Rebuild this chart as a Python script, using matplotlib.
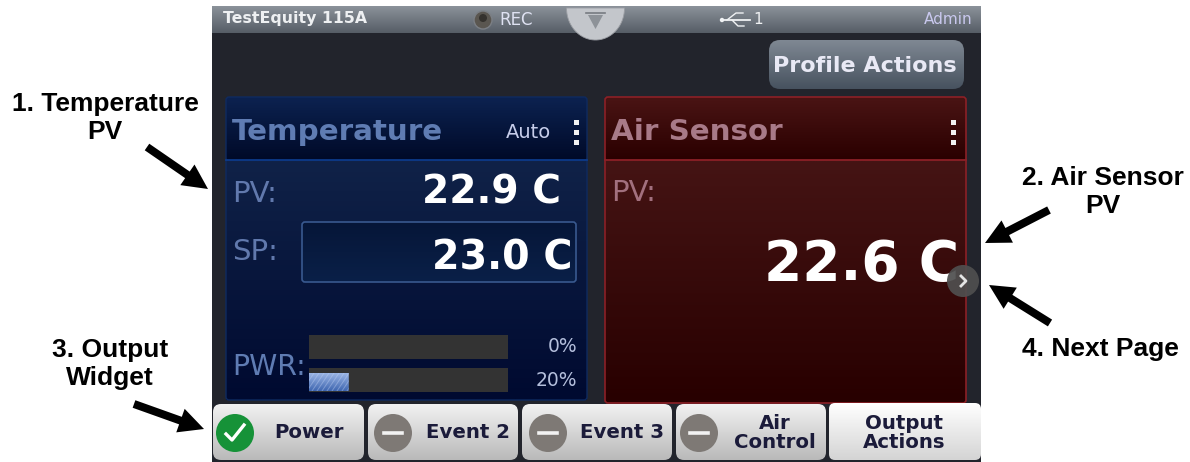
import matplotlib
matplotlib.use('Agg')
import matplotlib.pyplot as plt
from matplotlib.patches import FancyBboxPatch, FancyArrow, Circle, Polygon, Rectangle
import numpy as np

# values shown on the screen
title = 'TestEquity 115A'
rec_label = 'REC'
usb_label = '1'
user_label = 'Admin'
temp_name = 'Temperature'
temp_mode = 'Auto'
temp_pv = '22.9 C'
temp_sp = '23.0 C'
air_name = 'Air Sensor'
air_pv = '22.6 C'
pwr_values = [0, 20]
callouts = ['1. Temperature\nPV', '2. Air Sensor\nPV', '3. Output\nWidget', '4. Next Page']
tabs = ['Power', 'Event 2', 'Event 3', 'Air\nControl', 'Output\nActions']
tab_states = ['on', 'off', 'off', 'off', None]

callout_xy = [(105, 118), (1103, 192), (110, 364), (1100, 349)]
arrow_ends = [((147, 147), (208, 189)), ((1049, 210), (985, 243)),
              ((134, 404), (204, 429)), ((1050, 323), (989, 285))]
tab_x = [(213, 364), (368, 518), (522, 672), (676, 826), (829, 981)]
tab_text_x = [309, 468, 622, 775, 904]
tab_icon_x = [235, 393, 548, 699, None]

fig = plt.figure(figsize=(11.9, 4.62), dpi=100)
ax = fig.add_axes([0, 0, 1, 1])
ax.set_xlim(0, 1190)
ax.set_ylim(462, 0)
ax.axis('off')


def gradient(x0, y0, x1, y1, top, bottom, rad=0, z=1):
    # vertical gradient clipped to a rounded box
    c0 = np.array(matplotlib.colors.to_rgb(top))
    c1 = np.array(matplotlib.colors.to_rgb(bottom))
    t = np.linspace(0, 1, 64)[:, None, None]
    img = c0[None, None, :] * (1 - t) + c1[None, None, :] * t
    im = ax.imshow(img, extent=[x0, x1, y1, y0], aspect='auto', zorder=z,
                   interpolation='bilinear')
    box = FancyBboxPatch((x0 + rad, y0 + rad), x1 - x0 - 2 * rad, y1 - y0 - 2 * rad,
                         boxstyle='round,pad=%f,rounding_size=%f' % (rad, rad),
                         fc='none', ec='none', transform=ax.transData)
    ax.add_patch(box)
    im.set_clip_path(box)
    return im


def outline(x0, y0, x1, y1, color, rad=2, lw=1.2, z=3):
    ax.add_patch(FancyBboxPatch((x0 + rad, y0 + rad), x1 - x0 - 2 * rad, y1 - y0 - 2 * rad,
                                boxstyle='round,pad=%f,rounding_size=%f' % (rad, rad),
                                fc='none', ec=color, lw=lw, zorder=z))


def label(x, y, s, size, color, ha='left', weight='bold', z=6, **kw):
    ax.text(x, y, s, fontsize=size, color=color, ha=ha, va='center',
            fontweight=weight, family='DejaVu Sans', zorder=z, **kw)


# screen
ax.add_patch(Rectangle((212, 6), 769, 456, fc='#22242c', ec='none', zorder=0))
gradient(212, 6, 981, 33, '#8b929a', '#565d66', z=1)
label(223, 19, title, 11.3, '#eef0f2')
ax.add_patch(Circle((483, 20), 9, fc='#5a5650', ec='#7b7f85', lw=1, zorder=3))
ax.add_patch(Circle((483, 18), 4, fc='#35322e', ec='none', zorder=4))
label(499, 20, rec_label, 12, '#dfe2f2', weight='normal')
label(973, 20, user_label, 11, '#c9c8ee', ha='right', weight='normal')

# pull-down tab
theta = np.linspace(0, np.pi, 40)
tab_pts = np.c_[595.5 + 29 * np.cos(theta), 8 + 32 * np.sin(theta)]
ax.add_patch(Polygon(tab_pts, fc='#c3c6cb', ec='#9a9da3', lw=0.6, zorder=3))
ax.add_patch(Polygon([(588, 15), (603, 15), (595.5, 29)], fc='#8d9298', ec='none', zorder=4))
ax.plot([586, 605], [13, 13], color='#777b81', lw=1.2, zorder=4)

# usb symbol
ax.plot([722, 750], [20, 20], color='#f0f2f4', lw=1.3, zorder=4)
ax.plot([727, 736, 743], [20, 13, 13], color='#f0f2f4', lw=1, zorder=4)
ax.plot([732, 738, 744], [20, 26, 26], color='#f0f2f4', lw=1, zorder=4)
ax.add_patch(Circle((722, 20), 2.2, fc='#f0f2f4', ec='none', zorder=4))
label(753, 20, usb_label, 11, '#eef0f2', weight='normal')

# profile button
gradient(769, 40, 964, 89, '#7f8893', '#47525f', rad=11, z=2)
label(865, 66, 'Profile Actions', 16, '#e9e9f5', ha='center')

# temperature panel
gradient(226, 97, 587, 160, '#0c2250', '#000a28', rad=3, z=2)
gradient(226, 160, 587, 400, '#102248', '#000a30', z=2)
outline(226, 97, 587, 400, '#0e2a60', rad=3, lw=1)
ax.plot([226, 587], [160, 160], color='#0c3a8a', lw=1.3, zorder=3)
label(232, 132, temp_name, 21.2, '#5f7cb3')
label(551, 133, temp_mode, 14, '#c6cdea', ha='right', weight='normal')
for y in [122, 132, 142]:
    ax.add_patch(Rectangle((574, y - 2.5), 5, 5, fc='#f2f2f2', ec='none', zorder=5))
label(232, 194, 'PV:', 21, '#6179ad', weight='normal')
label(561, 193, temp_pv, 28.2, 'white', ha='right')

gradient(302, 222, 576, 282, '#061638', '#0a2048', rad=3, z=3)
outline(302, 222, 576, 282, '#39598f', rad=3, z=4)
label(232, 252, 'SP:', 21, '#6179ad', weight='normal')
label(573, 259, temp_sp, 28.5, 'white', ha='right')

# power bars
bar_left, bar_right = 309, 508
bar_tops = [335, 368]
ax.text(232, 367, 'PWR:', fontsize=20.5, color='#5f7cb3', va='center', zorder=6, family='DejaVu Sans')
for top, val in zip(bar_tops, pwr_values):
    ax.add_patch(Rectangle((bar_left, top), bar_right - bar_left, 24, fc='#333333', ec='none', zorder=3))
    if val > 0:
        w = (bar_right - bar_left) * val / 100
        im = gradient(bar_left, top + 5, bar_left + w, top + 23, '#9cb6e6', '#3e66b0', z=4)
        for dx in np.arange(0, w + 20, 5):
            ax.plot([bar_left + dx - 12, bar_left + dx], [top + 23, top + 5], color='#c2d2f2',
                    lw=0.7, alpha=0.4, zorder=5, clip_path=im.get_clip_path())
    label(577, top + 12, '%d%%' % val, 13.5, '#b4bfdc', ha='right', weight='normal')

# air panel
gradient(605, 97, 966, 160, '#4a1414', '#2a0000', rad=3, z=2)
gradient(605, 160, 966, 403, '#451414', '#280000', z=2)
outline(605, 97, 966, 403, '#8c2026', rad=3)
ax.plot([605, 966], [160, 160], color='#8c2026', lw=1.3, zorder=3)
label(611, 132, air_name, 21.2, '#a87a88')
for y in [122, 132, 142]:
    ax.add_patch(Rectangle((951, y - 2.5), 5, 5, fc='#f2f2f2', ec='none', zorder=5))
label(611, 193, 'PV:', 21, '#a2707e', weight='normal')
label(959, 265, air_pv, 39.6, 'white', ha='right')

# next page button
ax.add_patch(Circle((963, 281), 16, fc='#4f4f4f', ec='none', alpha=0.93, zorder=7))
ax.plot([961, 966, 961], [276, 281, 286], color='#e4e4e4', lw=2, zorder=8)

# bottom tabs
for (x0, x1), name, state, tx, ix in zip(tab_x, tabs, tab_states, tab_text_x, tab_icon_x):
    if state is None:
        gradient(x0, 403, x1, 460, '#ffffff', '#d4d4d4', rad=6, z=4)
    else:
        gradient(x0, 404, x1, 460, '#f2f2f2', '#b9b9b9', rad=8, z=4)
    label(tx, 433, name, 14.2, '#1b1b3a', ha='center', z=8, linespacing=1.05)
    if state == 'on':
        ax.add_patch(Circle((ix, 433), 19, fc='#169238', ec='none', zorder=7))
        ax.plot([ix - 9, ix - 3, ix + 9], [434, 440, 425], color='white', lw=2.4, zorder=8)
    elif state == 'off':
        ax.add_patch(Circle((ix, 433), 19, fc='#7e7975', ec='none', zorder=7))
        ax.plot([ix - 9, ix + 9], [433, 433], color='#f2f2f2', lw=2.6, zorder=8)

# callouts outside the screen
for (x, y), s in zip(callout_xy, callouts):
    ax.text(x, y, s, fontsize=19, fontweight='bold', family='Liberation Sans', color='black',
            ha='center', va='center', linespacing=1.25, zorder=10)
for (x0, y0), (x1, y1) in arrow_ends:
    ax.add_patch(FancyArrow(x0, y0, x1 - x0, y1 - y0, width=8, head_width=25, head_length=25,
                            length_includes_head=True, fc='black', ec='none', zorder=10))

ax.set_xlim(0, 1190)
ax.set_ylim(462, 0)
fig.savefig('out.png', dpi=100, facecolor='white')
